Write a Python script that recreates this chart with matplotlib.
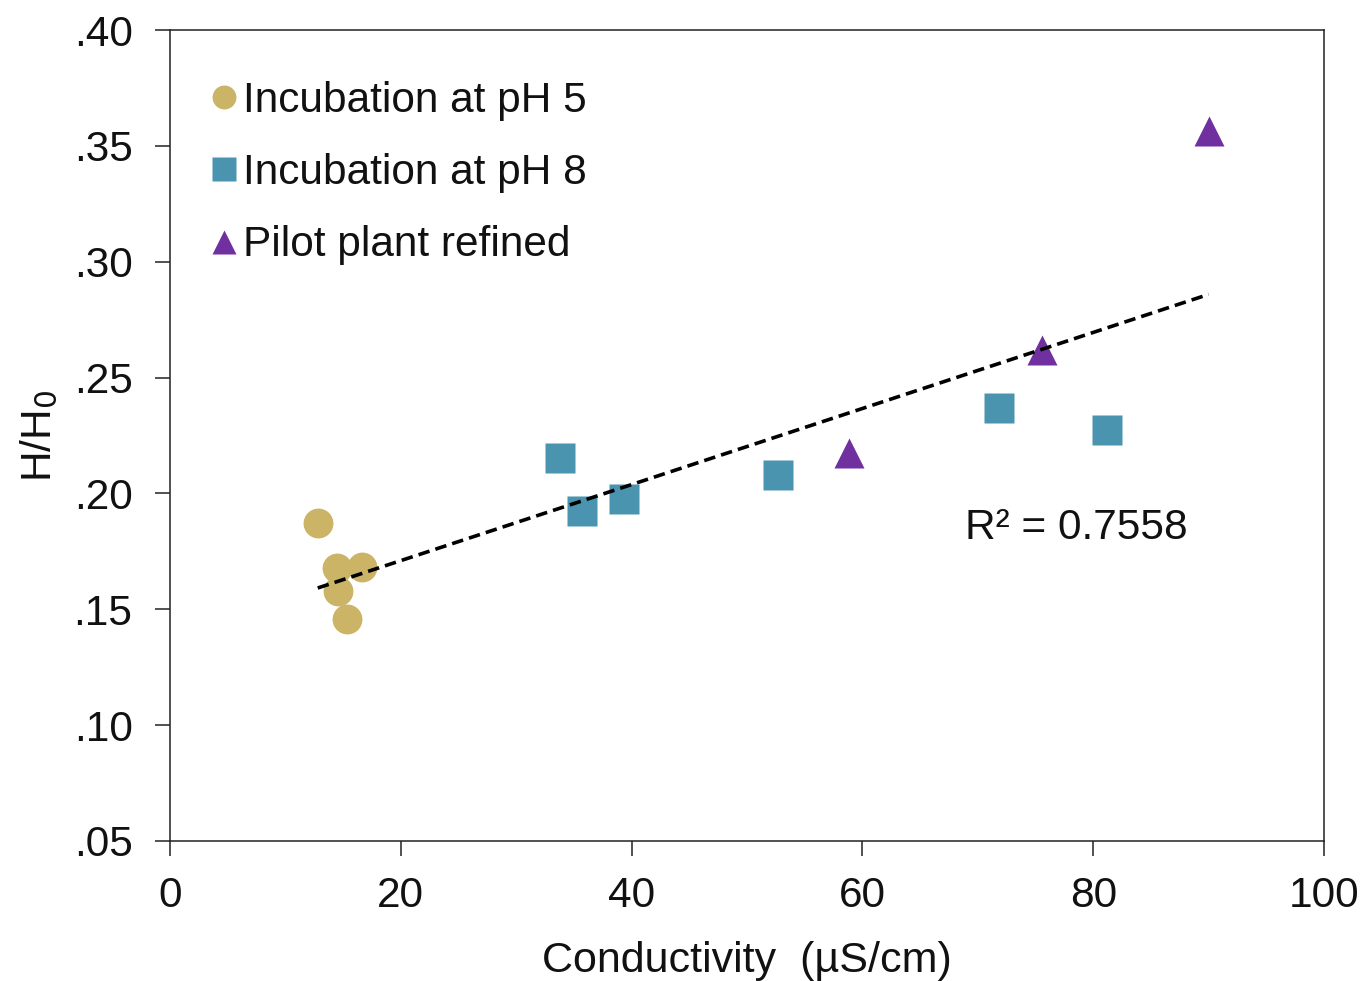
import numpy as np
import matplotlib
matplotlib.use("Agg")
import matplotlib.pyplot as plt

plt.rcParams['font.family'] = ['Liberation Sans', 'DejaVu Sans']

# Data
ph5_x = [12.8, 14.5, 16.6, 14.6, 15.3]
ph5_y = [0.1872, 0.1678, 0.1683, 0.1578, 0.1458]
ph8_x = [33.8, 35.7, 39.3, 52.7, 71.8, 81.2]
ph8_y = [0.2153, 0.1924, 0.1977, 0.2078, 0.2369, 0.2274]
pilot_x = [58.8, 75.6, 90.0]
pilot_y = [0.2175, 0.2619, 0.3563]
r2_label = "R² = 0.7558"
yticks = [0.05, 0.10, 0.15, 0.20, 0.25, 0.30, 0.35, 0.40]
ytick_labels = [".05", ".10", ".15", ".20", ".25", ".30", ".35", ".40"]
xticks = [0, 20, 40, 60, 80, 100]

c_ph5 = '#CBB466'
c_ph8 = '#4B94AF'
c_pilot = '#7030A0'
txt = '#111111'
fs = 30.5

W, H = 1362, 981
fig = plt.figure(figsize=(W / 100, H / 100), dpi=100)
ax = fig.add_axes([170 / W, 1 - 841 / H, (1324 - 170) / W, (841 - 30) / H])

ms = 21.5
ax.plot(ph5_x, ph5_y, 'o', color=c_ph5, ms=ms, mec='none', label='Incubation at pH 5', zorder=3)
ax.plot(ph8_x, ph8_y, 's', color=c_ph8, ms=ms, mec='none', label='Incubation at pH 8', zorder=3)
ax.plot(pilot_x, pilot_y, '^', color=c_pilot, ms=ms, mec='none', label='Pilot plant refined', zorder=3)

# Linear trendline over all points
all_x = np.array(ph5_x + ph8_x + pilot_x)
all_y = np.array(ph5_y + ph8_y + pilot_y)
k, b = np.polyfit(all_x, all_y, 1)
xx = np.array([all_x.min(), all_x.max()])
ax.plot(xx, k * xx + b, '--', color='black', lw=2.6, dashes=(3.2, 1.7), zorder=4)

ax.text(68.9, 0.1851, r2_label, fontsize=fs, ha='left', va='center', color=txt)

ax.set_xlim(0, 100)
ax.set_ylim(0.05, 0.40)
ax.set_xticks(xticks)
ax.set_yticks(yticks)
ax.set_yticklabels(ytick_labels)
ax.tick_params(axis='both', direction='out', length=11, width=1.1, labelsize=fs,
               color='#222222', labelcolor=txt)
ax.tick_params(axis='y', pad=16)
ax.tick_params(axis='x', pad=14)
for s in ax.spines.values():
    s.set_linewidth(1.1)
    s.set_color('#222222')

ax.set_xlabel('Conductivity  (µS/cm)', fontsize=31, labelpad=18, color=txt)
ax.set_ylabel('H/H$_0$', fontsize=fs, labelpad=10, color=txt)

leg = ax.legend(loc='upper left', bbox_to_anchor=(212 / W, 1 - 81 / H), bbox_transform=fig.transFigure,
                frameon=False, fontsize=fs, markerscale=0.8, handlelength=0.58, handletextpad=0.15,
                labelspacing=0.76, borderpad=0, borderaxespad=0)
for t in leg.get_texts():
    t.set_color(txt)

fig.savefig('out.png', dpi=100)
